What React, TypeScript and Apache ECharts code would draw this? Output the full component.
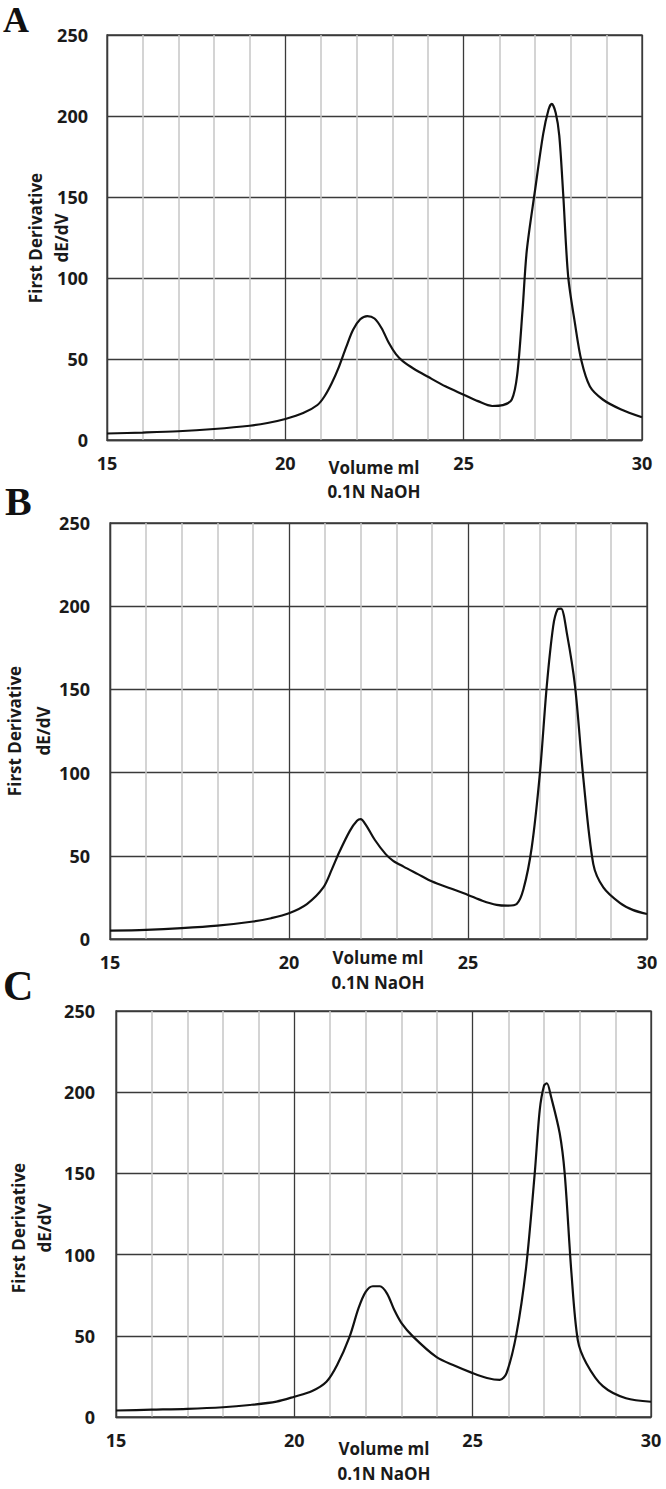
import React, { useEffect, useRef } from "react";
import * as echarts from "echarts";

// Panel A
const VOL_A = [15, 16, 17, 18, 19, 19.5, 20, 20.5, 20.9, 21.1, 21.3, 21.5, 21.7, 21.9, 22.1, 22.3, 22.5, 22.7, 22.9, 23.1, 23.3, 23.6, 24, 24.5, 25, 25.4, 25.8, 26.1, 26.35, 26.5, 26.65, 26.77, 27.0, 27.23, 27.38, 27.47, 27.58, 27.68, 27.79, 27.93, 28.12, 28.3, 28.54, 28.9, 29.4, 30];
const VAL_A = [4, 4.6, 5.4, 6.8, 8.8, 10.5, 13, 16.6, 21.6, 27, 35, 45, 57, 68, 74.5, 76.5, 75, 69, 60, 53, 48.5, 44, 39, 33, 28, 24, 21, 21.5, 25, 40, 80, 117, 154, 189, 204, 207.5, 202, 188, 152, 101, 72, 49, 33, 25, 19, 14];
// Panel B
const VOL_B = [15, 16, 17, 18, 19, 19.5, 20, 20.5, 20.96, 21.2, 21.4, 21.7, 21.9, 22.0, 22.15, 22.4, 22.7, 22.91, 23.2, 23.6, 24, 24.5, 25, 25.4, 25.8, 26.1, 26.36, 26.55, 26.78, 27.01, 27.2, 27.38, 27.5, 27.6, 27.76, 27.99, 28.22, 28.5, 28.78, 29.25, 29.6, 30];
const VAL_B = [5, 5.5, 6.5, 8, 10.5, 12.5, 15.5, 21, 31, 42, 52, 65, 71, 72, 68.5, 59.5, 51, 47, 43.5, 39, 34.5, 30.5, 26.5, 23, 20.5, 20, 21, 30, 55, 100, 152, 188, 198, 198.5, 184, 152, 97, 45, 31, 21.5, 17.5, 15];
// Panel C
const VOL_C = [15, 16, 17, 18, 18.75, 19.5, 20, 20.5, 20.9, 21.2, 21.55, 21.8, 22.0, 22.2, 22.4, 22.6, 22.8, 23.0, 23.33, 23.98, 24.5, 25, 25.4, 25.76, 25.95, 26.23, 26.5, 26.74, 26.88, 27.0, 27.08, 27.2, 27.44, 27.58, 27.77, 27.95, 28.19, 28.65, 29.3, 30];
const VAL_C = [4, 4.5, 5, 6, 7.4, 9.5, 12.5, 16, 21.7, 32, 49.5, 67, 77, 80.5, 80.5, 76, 66, 58, 49.5, 37, 31.5, 27, 24, 22.8, 27, 51.5, 92.5, 150, 189, 204, 205.5, 197, 174.7, 150, 88.5, 47, 33, 19, 11.5, 9.4];

const X_MIN = 15;
const X_MAX = 30;
const X_STEP = 5;
const Y_MIN = 0;
const Y_MAX = 250;
const Y_STEP = 50;

const PANEL_LETTERS = ["A", "B", "C"];
const Y_NAME = ["First Derivative", "dE/dV"];
const X_NAME = ["Volume ml", "0.1N NaOH"];

const FONT = "'Open Sans', sans-serif";
const DARK = "#3a3a3a";
const INK = "#1a1a1a";

export default function App() {
  const ref = useRef<HTMLDivElement>(null);
  useEffect(() => {
    if (!ref.current) return;
    const chart = echarts.init(ref.current, null, { renderer: "svg" });

    const grids = [
      { left: 107, right: 24, top: 35, height: 405 },
      { left: 110, right: 19, top: 523, height: 416 },
      { left: 116, right: 15, top: 1011, height: 406 },
    ];
    const yLabelMargins = [19, 20, 21];
    const datasets = [
      VOL_A.map((v, i) => [v, VAL_A[i]]),
      VOL_B.map((v, i) => [v, VAL_B[i]]),
      VOL_C.map((v, i) => [v, VAL_C[i]]),
    ];

    const letterPos = [
      { x: 3, y: 20, size: 36 },
      { x: 5, y: 501, size: 40 },
      { x: 3, y: 986, size: 42 },
    ];
    const yNamePos = [
      { x1: 35, x2: 61, y: 238 },
      { x1: 14, x2: 43, y: 731 },
      { x1: 18, x2: 44, y: 1228 },
    ];
    const xNamePos = [
      { x: 374, y1: 467, y2: 491 },
      { x: 378, y1: 957, y2: 982 },
      { x: 384, y1: 1448, y2: 1473 },
    ];

    const nameFont = `bold 17px ${FONT}`;
    const graphic: any[] = [];
    for (let i = 0; i < 3; i++) {
      graphic.push({
        type: "text",
        x: letterPos[i].x,
        y: letterPos[i].y,
        style: {
          text: PANEL_LETTERS[i],
          font: `bold ${letterPos[i].size}px 'Liberation Serif', 'Times New Roman', serif`,
          fill: "#111",
          align: "left",
          verticalAlign: "middle",
        },
      });
      graphic.push({
        type: "text",
        x: yNamePos[i].x1,
        y: yNamePos[i].y,
        rotation: Math.PI / 2,
        style: { text: Y_NAME[0], font: nameFont, fill: INK, align: "center", verticalAlign: "middle" },
      });
      graphic.push({
        type: "text",
        x: yNamePos[i].x2,
        y: yNamePos[i].y,
        rotation: Math.PI / 2,
        style: { text: Y_NAME[1], font: nameFont, fill: INK, align: "center", verticalAlign: "middle" },
      });
      graphic.push({
        type: "text",
        x: xNamePos[i].x,
        y: xNamePos[i].y1,
        style: { text: X_NAME[0], font: nameFont, fill: INK, align: "center", verticalAlign: "middle" },
      });
      graphic.push({
        type: "text",
        x: xNamePos[i].x,
        y: xNamePos[i].y2,
        style: { text: X_NAME[1], font: nameFont, fill: INK, align: "center", verticalAlign: "middle" },
      });
    }

    chart.setOption({
      animation: false,
      backgroundColor: "#ffffff",
      grid: grids.map((g) => ({ ...g, show: true, borderColor: DARK, borderWidth: 1.3, backgroundColor: "transparent" })),
      xAxis: grids.map((_, i) => ({
        type: "value",
        gridIndex: i,
        min: X_MIN,
        max: X_MAX,
        interval: X_STEP,
        axisLine: { show: true, lineStyle: { color: DARK, width: 1.3 } },
        axisTick: { show: false },
        minorTick: { show: false, splitNumber: 5 },
        minorSplitLine: { show: true, lineStyle: { color: "#c6c6c6", width: 1.5 } },
        splitLine: { show: true, lineStyle: { color: DARK, width: 1.3 } },
        axisLabel: { fontFamily: "Open Sans", fontWeight: "bold", fontSize: 18, color: INK, margin: 14 },
        z: 1,
      })),
      yAxis: grids.map((_, i) => ({
        type: "value",
        gridIndex: i,
        min: Y_MIN,
        max: Y_MAX,
        interval: Y_STEP,
        axisLine: { show: true, lineStyle: { color: DARK, width: 1.3 } },
        axisTick: { show: false },
        splitLine: { show: true, lineStyle: { color: DARK, width: 1.3 } },
        axisLabel: { fontFamily: "Open Sans", fontWeight: "bold", fontSize: 18, color: INK, margin: yLabelMargins[i] },
      })),
      series: datasets.map((d, i) => ({
        type: "line",
        xAxisIndex: i,
        yAxisIndex: i,
        data: d,
        smooth: 0.3,
        symbol: "none",
        lineStyle: { color: "#111", width: 2.2 },
        z: 5,
      })),
      graphic,
    });

    return () => chart.dispose();
  }, []);

  return (
    <div
      ref={ref}
      style={{ position: "fixed", left: 0, top: 0, width: 666, height: 1489, background: "#fff" }}
    />
  );
}
